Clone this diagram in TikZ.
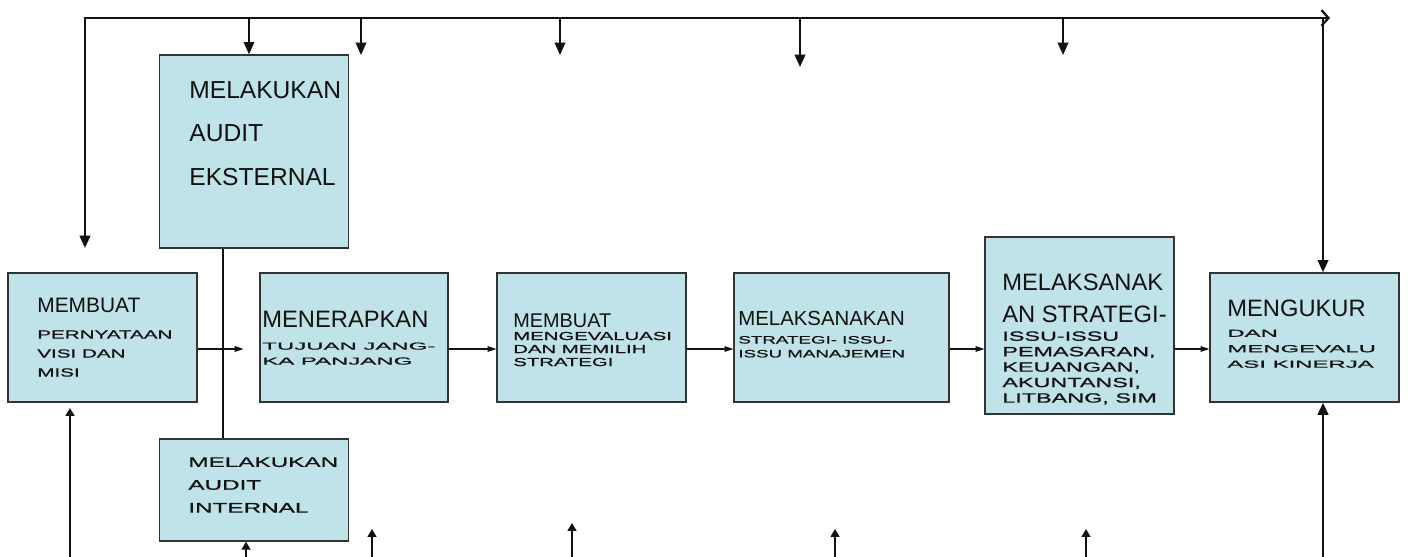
\documentclass[tikz,border=0pt]{standalone}
\usepackage{fontspec}
\setmainfont{Liberation Sans}
\newfontfamily\widefont[FakeStretch=1.75, FakeBold=0.8]{Liberation Sans}
\newfontfamily\widerfont[FakeStretch=2.35, FakeBold=0.8]{Liberation Sans}
\usetikzlibrary{arrows.meta, positioning, calc}
\definecolor{spfill}{HTML}{BFE3E8}
\definecolor{spline}{HTML}{333333}
\definecolor{spblack}{HTML}{111111}
\newcommand{\headline}[2]{{\normalfont\fontsize{#1}{#1}\selectfont #2}}

\begin{document}
\begin{tikzpicture}[
    x=0.02cm, y=-0.02cm,
    stage/.style={
        draw=spline, fill=spfill, line width=0.8pt,
        minimum width=3.78cm, minimum height=2.58cm, inner sep=0pt
    },
    txt/.style={anchor=north west, inner sep=0pt, align=left, text=spblack},
    frame/.style={draw=spblack, line width=1.3pt},
    flow/.style={draw=spblack, line width=0.6pt,
        -{Triangle[length=5pt, width=3.2pt]}},
    stub/.style={draw=spblack, line width=1pt,
        -{Triangle[length=7pt, width=6pt]}},
    rise/.style={draw=spblack, line width=1pt,
        -{Triangle[length=4.5pt, width=5pt]}},
]
\useasboundingbox (0,0) rectangle (1408,557);

% ---- audit boxes ----
\node[stage, minimum height=3.86cm] (eksternal) at (254, 151.5) {};
\node[stage, minimum height=2.04cm] (internal) at (254, 490) {};

% ---- main row, left to right ----
\node[stage] (visi) at (102.5, 337.5) {};
\node[stage, minimum width=3.76cm] (tujuan) at (354, 337.5) {};
\node[stage] (strategi) at (591.5, 337.5) {};
\node[stage, minimum width=4.30cm] (manajemen) at (841.5, 337.5) {};
\node[stage, minimum height=3.54cm] (fungsional) at (1079.5, 325.5) {};
\node[stage] (kinerja) at (1304.5, 337.5) {};

% ---- texts ----
\node[txt, font=\fontsize{14}{24.7}\selectfont] (eksternal-txt) at (189, 81)
    {MELAKUKAN\\ AUDIT\\ EKSTERNAL};
\node[txt, font=\fontsize{7.9}{13}\widefont] (internal-txt) at (188, 457)
    {MELAKUKAN\\ AUDIT\\ INTERNAL};
\node[txt, font=\fontsize{6.7}{10.8}\widefont] (visi-txt) at (37, 298)
    {\headline{11.9}{MEMBUAT}\\[3.9pt] PERNYATAAN\\ VISI DAN\\ MISI};
\node[txt, font=\fontsize{5.8}{8.5}\widerfont] (tujuan-txt) at (262, 311)
    {\headline{13.5}{MENERAPKAN}\\[4pt] TUJUAN JANG-\\ KA PANJANG};
\node[txt, font=\fontsize{6.6}{7.4}\widefont] (strategi-txt) at (513, 313)
    {\headline{11.3}{MEMBUAT}\\ MENGEVALUASI\\ DAN MEMILIH\\ STRATEGI};
\node[txt, font=\fontsize{6.1}{7.9}\widefont] (manajemen-txt) at (738, 311)
    {\headline{11.6}{MELAKSANAKAN}\\[2.3pt] STRATEGI- ISSU-\\ ISSU MANAJEMEN};
\node[txt, font=\fontsize{7.6}{8.8}\widefont] (fungsional-txt) at (1002, 274)
    {\headline{13.5}{MELAKSANAK}\\[7.6pt] \headline{13.5}{AN STRATEGI-}\\[1.4pt]
     ISSU-ISSU\\ PEMASARAN,\\ KEUANGAN,\\ AKUNTANSI,\\ LITBANG, SIM};
\node[txt, font=\fontsize{5.8}{8.8}\widerfont] (kinerja-txt) at (1227, 300)
    {\headline{13.5}{MENGUKUR}\\[2.5pt] DAN\\ MENGEVALU\\ ASI KINERJA};

% ---- forward flow ----
\coordinate (flowy) at (0, 349);
\draw[flow, shorten >=15\pgflinewidth] (visi.east |- flowy) -- (tujuan.west |- flowy);
\draw[flow] (tujuan.east |- flowy) -- (strategi.west |- flowy);
\draw[flow] (strategi.east |- flowy) -- (manajemen.west |- flowy);
\draw[flow] (manajemen.east |- flowy) -- (fungsional.west |- flowy);
\draw[flow] (fungsional.east |- flowy) -- (kinerja.west |- flowy);

% ---- audit link ----
\coordinate (auditx) at (223, 0);
\draw[frame, line width=0.9pt] (eksternal.south -| auditx) -- (internal.north -| auditx);

% ---- feedback frame on top ----
\coordinate (leftdrop) at (85, 248);
\coordinate (topright) at (1330, 18);
\coordinate (corner) at (1323, 18);
\draw[frame, {Triangle[length=7pt, width=6pt]}-{Straight Barb[length=4pt, width=9pt]}]
    (leftdrop) |- (topright);
\draw[frame, -{Triangle[length=7pt, width=6pt]}] (corner) -- (corner |- kinerja.north);

% ---- drops from the top line ----
\coordinate (d1) at (249, 55);
\coordinate (d2) at (361, 55);
\coordinate (d3) at (560, 55);
\coordinate (d4) at (800, 67);
\coordinate (d5) at (1063, 55);
\draw[stub] (d1 |- topright) -- (d1 |- eksternal.north);
\draw[stub] (d2 |- topright) -- (d2);
\draw[stub] (d3 |- topright) -- (d3);
\draw[stub] (d4 |- topright) -- (d4);
\draw[stub] (d5 |- topright) -- (d5);

% ---- rises from the bottom edge ----
\coordinate (u1) at (70, 408);
\coordinate (u2) at (246, 542);
\coordinate (u3) at (372, 529);
\coordinate (u4) at (572, 523);
\coordinate (u5) at (835, 529);
\coordinate (u6) at (1086, 529);
\coordinate (u7) at (1323, 557);
\draw[rise] (u1 |- u7) -- (u1);
\draw[rise] (u2 |- u7) -- (u2 |- internal.south);
\draw[rise] (u3 |- u7) -- (u3);
\draw[rise] (u4 |- u7) -- (u4);
\draw[rise] (u5 |- u7) -- (u5);
\draw[rise] (u6 |- u7) -- (u6);
\draw[frame, line width=1.6pt, -{Triangle[length=7pt, width=6pt]}] (u7) -- (u7 |- kinerja.south);

\end{tikzpicture}
\end{document}
